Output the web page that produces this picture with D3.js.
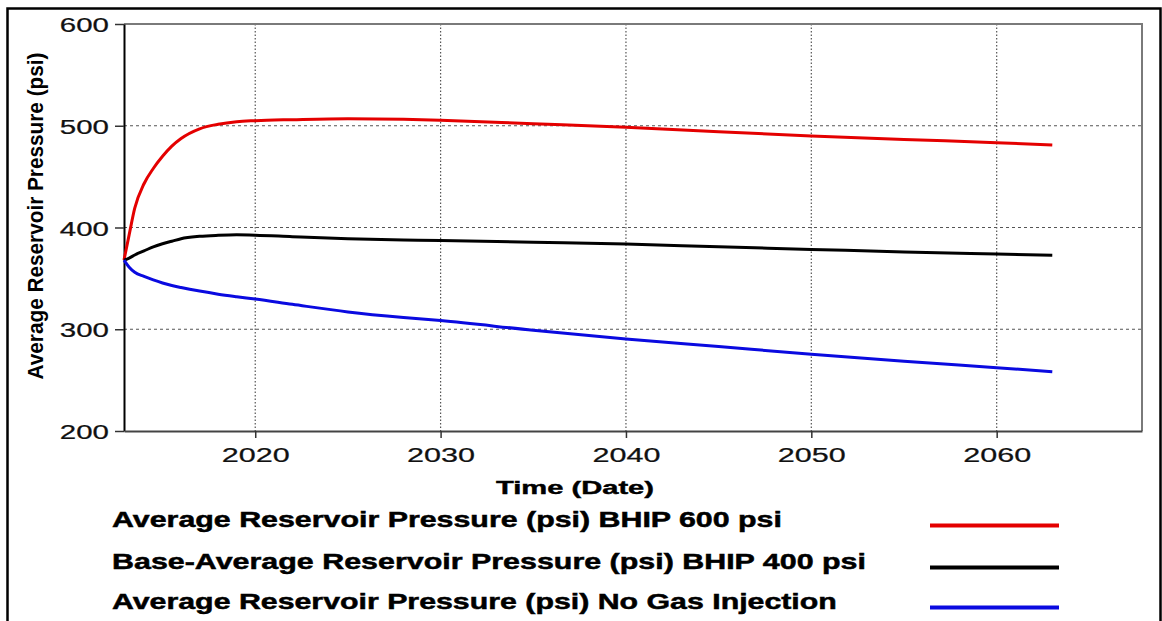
<!DOCTYPE html>
<html><head><meta charset="utf-8">
<script src="https://cdn.jsdelivr.net/npm/d3@7"></script>
<style>
html,body{margin:0;padding:0;background:#fff;}
svg{display:block;font-family:"Liberation Sans",Arial,sans-serif;}
</style></head><body>
<svg id="chart" width="1162" height="621"></svg>
<script>
// Simulation time axis (decimal years)
const years = [2012.92, 2013.2, 2013.5, 2014, 2014.5, 2015, 2015.5, 2016, 2017, 2018, 2019, 2020,
               2022, 2025, 2028, 2030, 2035, 2040, 2045, 2050, 2055, 2060, 2063];
// Average reservoir pressure (psi) per scenario
const bhip600 = [368, 393, 419, 443, 458, 470, 480, 487.5, 497, 501.5, 504, 505,
                 506, 507, 506.5, 505.5, 502, 498.5, 494, 490, 486.5, 483.4, 481];
const bhip400 = [368, 370, 373, 377, 381, 384, 386.5, 389, 391.3, 392.3, 392.8, 392.5,
                 391, 389, 387.8, 387.3, 385.5, 383.8, 381, 378.5, 376, 374, 372.8];
const noInjection = [368, 361, 356, 352, 348.5, 345.5, 343, 341, 337.5, 334.5, 332, 329.7,
                     324.5, 317, 311.5, 308.5, 299, 290.5, 283, 275.5, 268.5, 262.2, 258.3];

const yTicks = [200, 300, 400, 500, 600];
const xTicks = [2020, 2030, 2040, 2050, 2060];
const seriesNames = [
  "Average Reservoir Pressure (psi) BHIP 600 psi",
  "Base-Average Reservoir Pressure (psi) BHIP 400 psi",
  "Average Reservoir Pressure (psi) No Gas Injection"
];
const seriesColors = ["#e40000", "#000000", "#0a0ae0"];
const seriesValues = [bhip600, bhip400, noInjection];

const svg = d3.select("#chart");
const plot = {left: 124, top: 24, right: 1142, bottom: 431};

const x = d3.scaleLinear().domain([2012.92, 2067.84]).range([plot.left, plot.right]);
const y = d3.scaleLinear().domain([200, 600]).range([plot.bottom, plot.top]);

// Stretch a text element horizontally so it spans `width` px, anchored at (tx, ty).
function fitText(node, tx, ty, width) {
  node.setAttribute("x", 0);
  node.setAttribute("y", 0);
  const natural = node.getComputedTextLength();
  const s = width / natural;
  node.setAttribute("transform", `translate(${tx},${ty}) scale(${s},1)`);
}

// outer frame
svg.append("rect").attr("x", 7.5).attr("y", 8.5).attr("width", 1153).attr("height", 700)
  .attr("fill", "none").attr("stroke", "#000").attr("stroke-width", 2.5);

// grid
const grid = svg.append("g").attr("stroke", "#555").attr("stroke-width", 1.2);
grid.selectAll("line.h").data(yTicks.filter(v => v > 200 && v < 600)).join("line")
  .attr("x1", plot.left).attr("x2", plot.right)
  .attr("y1", d => y(d)).attr("y2", d => y(d))
  .attr("stroke-dasharray", "3,3");
grid.selectAll("line.v").data(xTicks).join("line")
  .attr("y1", plot.top).attr("y2", plot.bottom)
  .attr("x1", d => x(d)).attr("x2", d => x(d))
  .attr("stroke-dasharray", "1.5,2");

// top and right plot border
svg.append("path")
  .attr("d", `M${plot.left},${plot.top}H${plot.right}V${plot.bottom}`)
  .attr("fill", "none").attr("stroke", "#7a7a7a").attr("stroke-width", 2);

// axes
const yAxis = svg.append("g").attr("transform", `translate(${plot.left},0)`)
  .call(d3.axisLeft(y).tickValues(yTicks).tickSize(9).tickSizeOuter(0).tickFormat(d3.format("d")));
const xAxis = svg.append("g").attr("transform", `translate(0,${plot.bottom})`)
  .call(d3.axisBottom(x).tickValues(xTicks).tickSize(7).tickSizeOuter(0).tickFormat(d3.format("d")));

yAxis.select(".domain").attr("stroke", "#000").attr("stroke-width", 2);
xAxis.select(".domain").attr("stroke", "#444").attr("stroke-width", 2);
yAxis.selectAll(".tick line").attr("stroke", "#333").attr("stroke-width", 1.5);
xAxis.selectAll(".tick line").attr("stroke", "#333").attr("stroke-width", 1.5);

yAxis.selectAll(".tick text")
  .attr("dy", "0.36em").attr("font-size", 21).attr("fill", "#111")
  .attr("stroke", "#111").attr("stroke-width", 0.25)
  .each(function (d) { fitText(this, -15, 0, String(d).length * 16.4); });
xAxis.selectAll(".tick text")
  .attr("dy", 0).attr("font-size", 21).attr("fill", "#111")
  .attr("stroke", "#111").attr("stroke-width", 0.25)
  .each(function (d) { fitText(this, 0, 31, String(d).length * 17); });

// axis titles
svg.append("text")
  .attr("text-anchor", "middle").attr("font-size", 18).attr("font-weight", "bold")
  .attr("stroke", "#000").attr("stroke-width", 0.4)
  .text("Time (Date)")
  .each(function () { fitText(this, 575, 494, 158); });
svg.append("text")
  .attr("transform", "translate(43,216) scale(1.4,1) rotate(-90)")
  .attr("text-anchor", "middle").attr("font-size", 16).attr("font-weight", "bold")
  .attr("textLength", 327).attr("lengthAdjust", "spacingAndGlyphs")
  .text("Average Reservoir Pressure (psi)");

// series curves
const line = d3.line().x((d, i) => x(years[i])).y(d => y(d)).curve(d3.curveMonotoneX);
svg.append("g").selectAll("path").data(seriesValues).join("path")
  .attr("d", d => line(d))
  .attr("fill", "none")
  .attr("stroke", (d, i) => seriesColors[i])
  .attr("stroke-width", 3)
  .attr("stroke-linejoin", "round");

// legend
const legendWidths = [670, 754, 725];
const legendRows = [527, 569, 609];
const legend = svg.append("g");
legend.selectAll("text").data(seriesNames).join("text")
  .attr("font-size", 22.5).attr("font-weight", "bold").attr("fill", "#000")
  .attr("stroke", "#000").attr("stroke-width", 0.5)
  .text(d => d)
  .each(function (d, i) { fitText(this, 112, legendRows[i], legendWidths[i]); });
legend.selectAll("line").data(seriesNames).join("line")
  .attr("x1", 930).attr("x2", 1059)
  .attr("y1", (d, i) => legendRows[i] - 1.5).attr("y2", (d, i) => legendRows[i] - 1.5)
  .attr("stroke", (d, i) => seriesColors[i]).attr("stroke-width", 4);
</script>
</body></html>
